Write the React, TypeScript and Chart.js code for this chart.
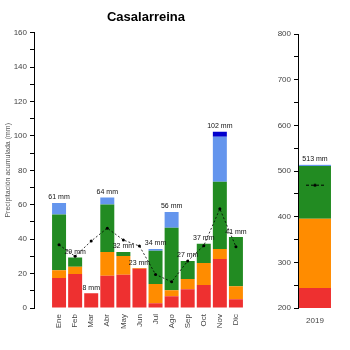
import React, { useEffect, useRef } from "react";
import { Chart, registerables } from "chart.js";

Chart.register(...registerables);

const months = ["Ene", "Feb", "Mar", "Abr", "May", "Jun", "Jul", "Ago", "Sep", "Oct", "Nov", "Dic"];
const redVals = [17.4, 19.7, 8.6, 18.7, 19.3, 22.8, 2.7, 6.8, 10.9, 13.3, 28.5, 5.1];
const orangeVals = [4.6, 4.3, 0, 13.9, 10.9, 0.4, 11.2, 3.5, 5.9, 12.8, 5.8, 7.6];
const greenVals = [32.3, 5.3, 0, 27.5, 2.4, 0, 19.3, 36.3, 10.5, 11.2, 39.1, 28.5];
const blueVals = [6.7, 0, 0, 4.1, 0, 0, 1.1, 9.2, 0, 0, 26.1, 0];
const darkBlueVals = [0, 0, 0, 0, 0, 0, 0, 0, 0, 0, 2.9, 0];
const totals = [61, 29, 8, 64, 32, 23, 34, 56, 27, 37, 102, 41];
const normals = [36.7, 30.0, 38.9, 46.4, 39.5, 36.0, 19.5, 15.2, 27.3, 36.2, 57.6, 35.6];

const years = ["2019"];
const yearRed = [244];
const yearOrange = [151.6];
const yearGreen = [115.4];
const yearBlue = [2.5];
const yearTotal = [513];
const yearNormal = [469];

const title = "Casalarreina";
const yTitle = "Precipitación acumulada (mm)";

const COLORS = {
  red: "#EE3030",
  orange: "#FF8C00",
  green: "#228B22",
  blue: "#6495ED",
  darkBlue: "#0000CD",
};

const FONT = "'Liberation Sans', Arial, sans-serif";
const TICK_COLOR = "#444";

function makeLabelPlugin(labels: number[]) {
  return {
    id: "totals",
    afterDatasetsDraw(chart: any) {
      const ctx = chart.ctx;
      ctx.save();
      ctx.font = `7px ${FONT}`;
      ctx.fillStyle = "#111";
      ctx.textAlign = "center";
      ctx.textBaseline = "bottom";
      labels.forEach((t, i) => {
        let top: any = null;
        chart.data.datasets.forEach((ds: any, di: number) => {
          if (ds.type === "line") return;
          const raw = ds.data[i];
          const v = typeof raw === "object" ? raw.y : raw;
          if (v > 0) {
            const el = chart.getDatasetMeta(di).data[i];
            if (el && (top === null || el.y < top.y)) top = el;
          }
        });
        if (top) ctx.fillText(`${t} mm`, top.x, top.y - 2);
      });
      ctx.restore();
    },
  };
}

function makeNormalMarker() {
  const c = document.createElement("canvas");
  c.width = 18;
  c.height = 5;
  const g = c.getContext("2d")!;
  g.strokeStyle = "#000";
  g.lineWidth = 1;
  g.setLineDash([3, 2]);
  g.beginPath();
  g.moveTo(0, 2.5);
  g.lineTo(18, 2.5);
  g.stroke();
  g.setLineDash([]);
  g.fillStyle = "#000";
  g.beginPath();
  g.arc(9, 2.5, 1.6, 0, Math.PI * 2);
  g.fill();
  return c;
}

export default function App() {
  const leftRef = useRef<HTMLCanvasElement>(null);
  const rightRef = useRef<HTMLCanvasElement>(null);

  useEffect(() => {
    const xy = (arr: number[]) => arr.map((v, i) => ({ x: i, y: v }));
    const barDs = (label: string, arr: number[], color: string) => ({
      type: "bar" as const,
      label,
      data: xy(arr),
      backgroundColor: color,
      borderWidth: 0,
      barPercentage: 0.87,
      categoryPercentage: 1,
      order: 1,
    });

    const left = new Chart(leftRef.current!, {
      type: "bar",
      data: {
        datasets: [
          barDs("r", redVals, COLORS.red),
          barDs("o", orangeVals, COLORS.orange),
          barDs("g", greenVals, COLORS.green),
          barDs("b", blueVals, COLORS.blue),
          barDs("db", darkBlueVals, COLORS.darkBlue),
          {
            type: "line" as const,
            label: "normal",
            data: xy(normals),
            stack: "normal",
            borderColor: "#000",
            borderWidth: 0.8,
            borderDash: [2, 2],
            pointRadius: 1.5,
            pointBackgroundColor: "#000",
            pointBorderWidth: 0,
            fill: false,
            tension: 0,
            order: 0,
          } as any,
        ],
      },
      options: {
        responsive: false,
        animation: false,
        layout: { padding: { left: 0, right: 0, top: 0, bottom: 0 } },
        plugins: {
          legend: { display: false },
          tooltip: { enabled: false },
          title: {
            display: true,
            text: title,
            color: "#000",
            font: { family: FONT, size: 13, weight: "bold" },
            padding: { top: 10, bottom: 7 },
          },
        },
        scales: {
          x: {
            type: "linear",
            stacked: true,
            min: -0.9,
            max: 13.58,
            grid: { display: false, drawTicks: false },
            border: { display: false },
            afterBuildTicks: (scale: any) => {
              scale.ticks = months.map((_, i) => ({ value: i }));
            },
            afterFit: (scale: any) => {
              scale.height = 42;
            },
            ticks: {
              autoSkip: false,
              minRotation: 90,
              maxRotation: 90,
              padding: 6,
              color: TICK_COLOR,
              font: { family: FONT, size: 8 },
              callback: (v: any) => months[v] ?? "",
            },
          },
          y: {
            stacked: true,
            min: 0,
            max: 160,
            afterFit: (scale: any) => {
              scale.width = 34;
            },
            ticks: {
              stepSize: 10,
              padding: 3,
              color: TICK_COLOR,
              font: { family: FONT, size: 8 },
              callback: (v: any) => (v % 20 === 0 ? String(v) : ""),
            },
            grid: { drawOnChartArea: false, drawTicks: true, tickLength: 4, color: "#000" },
            border: { display: true, color: "#000", width: 1 },
            title: {
              display: true,
              text: yTitle,
              color: "#555",
              font: { family: FONT, size: 7 },
              padding: { top: 4, bottom: 0 },
            },
          },
        },
      } as any,
      plugins: [makeLabelPlugin(totals)],
    });

    const marker = makeNormalMarker();
    const right = new Chart(rightRef.current!, {
      type: "bar",
      data: {
        labels: years,
        datasets: [
          { type: "bar", data: yearRed, backgroundColor: COLORS.red, order: 1 },
          { type: "bar", data: yearOrange, backgroundColor: COLORS.orange, order: 1 },
          { type: "bar", data: yearGreen, backgroundColor: COLORS.green, order: 1 },
          { type: "bar", data: yearBlue, backgroundColor: COLORS.blue, order: 1 },
          {
            type: "line",
            data: yearNormal,
            stack: "normal",
            pointStyle: marker,
            pointRadius: 9,
            showLine: false,
            order: 0,
          },
        ] as any,
      },
      options: {
        responsive: false,
        animation: false,
        clip: { left: 0, top: 0, right: 0, bottom: 0 },
        datasets: { bar: { barPercentage: 0.94, categoryPercentage: 1, borderWidth: 0 } },
        layout: { padding: { left: 0, right: 18, top: 34, bottom: 0 } },
        plugins: { legend: { display: false }, tooltip: { enabled: false } },
        scales: {
          x: {
            stacked: true,
            offset: true,
            grid: { display: false, drawTicks: false },
            border: { display: false },
            afterFit: (scale: any) => {
              scale.height = 42;
            },
            ticks: {
              maxRotation: 0,
              padding: 8,
              color: TICK_COLOR,
              font: { family: FONT, size: 8 },
            },
          },
          y: {
            stacked: true,
            min: 200,
            max: 800,
            afterFit: (scale: any) => {
              scale.width = 48;
            },
            ticks: {
              stepSize: 50,
              padding: 3,
              color: TICK_COLOR,
              font: { family: FONT, size: 8 },
              callback: (v: any) => (v % 100 === 0 ? String(v) : ""),
            },
            grid: { drawOnChartArea: false, drawTicks: true, tickLength: 4, color: "#000" },
            border: { display: true, color: "#000", width: 1 },
          },
        },
      } as any,
      plugins: [makeLabelPlugin(yearTotal)],
    });

    return () => {
      left.destroy();
      right.destroy();
    };
  }, []);

  return (
    <div style={{ position: "fixed", left: 0, top: 0, width: 350, height: 350, background: "#fff" }}>
      <canvas ref={leftRef} width={292} height={350} style={{ position: "absolute", left: 0, top: 0 }} />
      <canvas ref={rightRef} width={100} height={350} style={{ position: "absolute", left: 250, top: 0 }} />
    </div>
  );
}
